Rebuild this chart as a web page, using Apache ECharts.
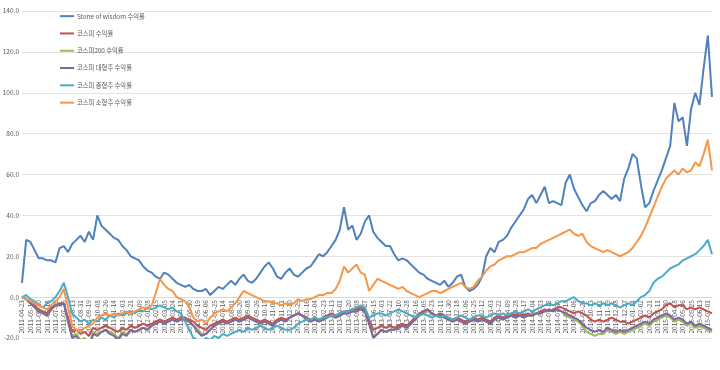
<!DOCTYPE html>
<html><head><meta charset="utf-8">
<script src="https://cdn.jsdelivr.net/npm/echarts@6/dist/echarts.min.js"></script>
<style>html,body{margin:0;padding:0;background:#fff}#c{width:720px;height:370px}</style>
</head><body><div id="c"></div>
<script>
const seriesNames = ['Stone of wisdom 수익률','코스피 수익률','코스피200 수익률','코스피 대형주 수익률','코스피 중형주 수익률','코스피 소형주 수익률'];
const colors = ['#4F81BD','#C0504D','#9BBB59','#8064A2','#4BACC6','#F79646'];
const yTicks = {min:-20, max:140, interval:20};
const dates = ('2011-04-23 2011-05-02 2011-05-11 2011-05-21 2011-05-30 2011-06-08 2011-06-18 2011-06-27 2011-07-06 2011-07-16 ' +
'2011-07-25 2011-08-03 2011-08-13 2011-08-22 2011-08-31 2011-09-10 2011-09-19 2011-09-28 2011-10-08 2011-10-17 ' +
'2011-10-26 2011-11-05 2011-11-14 2011-11-23 2011-12-03 2011-12-12 2011-12-21 2011-12-31 2012-01-09 2012-01-18 ' +
'2012-01-28 2012-02-06 2012-02-15 2012-02-25 2012-03-05 2012-03-14 2012-03-24 2012-04-02 2012-04-11 2012-04-21 ' +
'2012-04-30 2012-05-09 2012-05-19 2012-05-28 2012-06-06 2012-06-16 2012-06-25 2012-07-04 2012-07-14 2012-07-23 ' +
'2012-08-01 2012-08-11 2012-08-20 2012-08-29 2012-09-08 2012-09-17 2012-09-26 2012-10-06 2012-10-15 2012-10-24 ' +
'2012-11-03 2012-11-12 2012-11-21 2012-12-01 2012-12-10 2012-12-19 2012-12-29 2013-01-07 2013-01-16 2013-01-26 ' +
'2013-02-04 2013-02-13 2013-02-23 2013-03-04 2013-03-13 2013-03-23 2013-04-01 2013-04-10 2013-04-20 2013-04-29 ' +
'2013-05-08 2013-05-18 2013-05-27 2013-06-05 2013-06-15 2013-06-24 2013-07-03 2013-07-13 2013-07-22 2013-07-31 ' +
'2013-08-10 2013-08-19 2013-08-28 2013-09-07 2013-09-16 2013-09-25 2013-10-05 2013-10-14 2013-10-23 2013-11-02 ' +
'2013-11-11 2013-11-20 2013-11-30 2013-12-09 2013-12-18 2013-12-28 2014-01-06 2014-01-15 2014-01-25 2014-02-03 ' +
'2014-02-12 2014-02-22 2014-03-03 2014-03-12 2014-03-22 2014-03-31 2014-04-09 2014-04-19 2014-04-28 2014-05-07 ' +
'2014-05-17 2014-05-26 2014-06-04 2014-06-14 2014-06-23 2014-07-02 2014-07-12 2014-07-21 2014-07-30 2014-08-09 ' +
'2014-08-18 2014-08-27 2014-09-06 2014-09-15 2014-09-24 2014-10-04 2014-10-13 2014-10-22 2014-11-01 2014-11-10 ' +
'2014-11-19 2014-11-29 2014-12-08 2014-12-17 2014-12-27 2015-01-05 2015-01-14 2015-01-24 2015-02-02 2015-02-11 ' +
'2015-02-21 2015-03-02 2015-03-11 2015-03-21 2015-03-30 2015-04-08 2015-04-18 2015-04-27 2015-05-06 2015-05-16 ' +
'2015-05-25 2015-06-03 2015-06-13 2015-06-22 2015-07-01 2015-07-11').split(' ');

const stoneOfWisdom = [7,28,27,23,19,19,18,18,17,24, 25,22,26,28,30,27,32,28,40,35, 33,31,29,28,25,23,20,19,18,15,
 13,12,10,9,12,11,9,7,6,5, 6,4,3,3,4,1,3,5,4,6, 8,6,9,11,8,7,9,12,15,17,
 14,10,9,12,14,11,10,12,14,15, 18,21,20,22,25,28,33,44,33,35, 28,31,37,40,32,29,27,25,25,21,
 18,19,18,16,14,12,11,9,8,7, 6,8,5,7,10,11,5,3,4,6, 10,20,24,22,27,28,30,34,37,40,
 43,48,50,46,50,54,46,47,46,45, 56,60,53,49,45,42,46,47,50,52, 50,48,50,47,58,63,70,68,55,44,
 46,52,57,62,68,74,95,86,88,74, 92,100,94,112,128,98];
const kospi = [0,-1,-3,-4,-6,-7,-8,-5,-4,-3, -3,-10,-17,-16,-18,-17,-19,-15,-16,-15, -14,-15,-16,-17,-15,-16,-14,-15,-14,-13,
 -14,-13,-12,-11,-12,-11,-10,-11,-10,-10, -11,-12,-14,-15,-16,-14,-13,-12,-11,-12, -11,-10,-11,-10,-9,-10,-11,-12,-11,-12,
 -13,-11,-10,-11,-10,-9,-8,-9,-10,-11, -10,-11,-10,-9,-8,-9,-8,-7,-7,-6, -6,-5,-6,-11,-16,-15,-14,-15,-14,-15,
 -14,-13,-14,-12,-10,-8,-7,-6,-8,-9, -8,-9,-10,-11,-10,-11,-12,-11,-10,-11, -10,-11,-12,-10,-9,-10,-9,-8,-9,-8,
 -9,-8,-9,-8,-7,-6,-7,-6,-5,-5, -6,-7,-8,-7,-8,-9,-11,-12,-11,-12, -11,-10,-11,-12,-12,-13,-12,-11,-10,-9,
 -10,-8,-7,-6,-4,-3,-5,-4,-4,-6, -5,-6,-5,-6,-7,-8];
const kospi200 = [0,-1,-3,-5,-7,-8,-9,-6,-4,-4, -3,-12,-19,-18,-21,-20,-24,-17,-18,-17, -16,-17,-18,-20,-17,-18,-16,-17,-16,-15,
 -16,-14,-13,-12,-13,-12,-11,-12,-11,-11, -12,-14,-16,-18,-18,-16,-14,-13,-12,-13, -12,-11,-12,-11,-10,-11,-12,-13,-12,-13,
 -14,-12,-11,-12,-10,-9,-8,-9,-11,-12, -11,-12,-11,-10,-9,-10,-9,-8,-8,-7, -7,-6,-7,-13,-19,-18,-16,-17,-16,-16,
 -15,-14,-15,-13,-11,-9,-8,-7,-8,-9, -9,-10,-11,-12,-11,-12,-13,-12,-11,-12, -11,-12,-13,-11,-10,-11,-10,-9,-10,-9,
 -10,-9,-9,-8,-8,-7,-6,-7,-6,-7, -9,-10,-11,-12,-14,-17,-18,-19,-18,-18, -16,-17,-18,-17,-18,-17,-16,-15,-14,-13,
 -14,-12,-11,-10,-9,-10,-12,-11,-12,-14, -13,-15,-14,-15,-16,-17];
const largeCap = [0,-1,-3,-5,-7,-8,-9,-6,-4,-4, -3,-12,-20,-19,-22,-21,-26,-18,-19,-17, -16,-18,-19,-21,-18,-19,-16,-17,-16,-15,
 -16,-14,-13,-12,-13,-12,-11,-12,-11,-11, -12,-14,-17,-19,-18,-16,-14,-13,-12,-13, -12,-11,-12,-11,-10,-11,-12,-13,-12,-13,
 -14,-12,-11,-12,-10,-9,-8,-9,-11,-12, -11,-12,-11,-10,-9,-10,-9,-8,-8,-7, -7,-6,-7,-13,-20,-18,-16,-17,-16,-16,
 -15,-14,-15,-13,-11,-9,-7,-6,-8,-9, -9,-10,-11,-12,-11,-12,-13,-12,-11,-12, -11,-12,-13,-11,-10,-11,-10,-9,-10,-9,
 -10,-9,-9,-8,-8,-7,-6,-7,-6,-7, -8,-9,-10,-11,-13,-15,-16,-17,-16,-17, -15,-16,-17,-16,-17,-16,-15,-14,-13,-12,
 -13,-11,-10,-9,-8,-9,-11,-10,-11,-13, -12,-14,-13,-14,-15,-16];
const midCap = [0,1,-1,-2,-4,-5,-3,-2,0,3, 7,0,-8,-10,-12,-11,-13,-11,-12,-10, -11,-9,-10,-8,-9,-8,-7,-8,-6,-7,
 -5,-6,-5,-4,-5,-6,-5,-7,-8,-12, -16,-20,-21,-22,-20,-21,-19,-20,-18,-19, -18,-17,-16,-17,-15,-16,-15,-14,-15,-16,
 -15,-14,-15,-16,-16,-15,-13,-12,-11,-11, -10,-11,-10,-10,-9,-9,-8,-7,-7,-6, -5,-4,-5,-10,-9,-8,-8,-9,-8,-7,
 -6,-7,-8,-9,-10,-9,-8,-9,-10,-9, -10,-9,-10,-11,-10,-9,-10,-11,-10,-9, -9,-10,-9,-8,-9,-8,-9,-8,-7,-8,
 -7,-6,-7,-6,-5,-4,-3,-4,-3,-2, -2,-1,0,-2,-3,-3,-4,-3,-4,-3, -4,-3,-4,-5,-4,-3,-4,-2,0,1,
 3,7,9,10,12,14,15,16,18,19, 20,21,23,25,28,21];
const smallCap = [0,-1,-2,-3,-4,-5,-6,-4,-2,0, 4,-5,-14,-16,-17,-15,-14,-13,-10,-9, -8,-9,-8,-9,-8,-7,-8,-7,-6,-5,
 -6,-4,2,9,6,4,3,0,-1,-2, -5,-10,-12,-11,-13,-10,-8,-7,-6,-7, -5,-3,0,3,2,1,0,-1,-2,-2,
 -3,-3,-4,-3,-4,-3,-1,-2,-1,-1, 0,1,1,2,2,4,8,15,12,14, 16,12,11,3,6,9,8,7,6,5,
 4,5,3,2,1,0,1,2,3,3, 2,3,4,5,6,7,5,4,5,8, 10,13,15,16,18,19,20,20,21,22,
 22,23,24,24,26,27,28,29,30,31, 32,33,31,30,31,27,25,24,23,22, 23,22,21,20,21,22,24,27,30,34,
 39,44,49,54,58,60,62,60,63,61, 62,66,64,70,77,62];

const allData = [stoneOfWisdom,kospi,kospi200,largeCap,midCap,smallCap];
const FONT = "'Noto Sans CJK KR','Noto Sans',sans-serif";
const GRID_TOP = 11, GRID_BOTTOM = 32, H = 370;
const zeroOffset = (H - GRID_TOP - GRID_BOTTOM) * (0 - yTicks.min) / (yTicks.max - yTicks.min);
const chart = echarts.init(document.getElementById('c'), null, {renderer:'canvas'});
chart.setOption({
  animation:false,
  color:colors,
  textStyle:{fontFamily:FONT},
  grid:{left:22,right:8,top:GRID_TOP,bottom:GRID_BOTTOM,containLabel:false,outerBoundsMode:'none'},
  legend:{
    orient:'vertical', left:55, top:8, itemGap:11, itemWidth:14, itemHeight:2,
    icon:'rect',
    textStyle:{fontSize:6.3,color:'#595959',fontFamily:FONT,padding:[0,0,0,-2]},
    data:seriesNames
  },
  xAxis:{
    type:'category', data:dates, boundaryGap:false, position:'bottom',
    offset:-zeroOffset,
    axisLine:{onZero:false,lineStyle:{color:'#d9d9d9',width:1}},
    axisTick:{show:false},
    axisLabel:{rotate:90,fontSize:6.5,color:'#595959',interval:1,margin:3,fontFamily:FONT},
    splitLine:{show:false}
  },
  yAxis:{
    type:'value', min:yTicks.min, max:yTicks.max, interval:yTicks.interval,
    axisLine:{show:false}, axisTick:{show:false},
    axisLabel:{fontSize:6.5,color:'#595959',margin:3,formatter:v=>v.toFixed(1),fontFamily:FONT},
    splitLine:{lineStyle:{color:'#e3e3e3',width:1}}
  },
  series:seriesNames.map((n,k)=>({
    name:n, type:'line', data:allData[k], symbol:'none', lineStyle:{width:2}, z:2
  }))
});
</script></body></html>
